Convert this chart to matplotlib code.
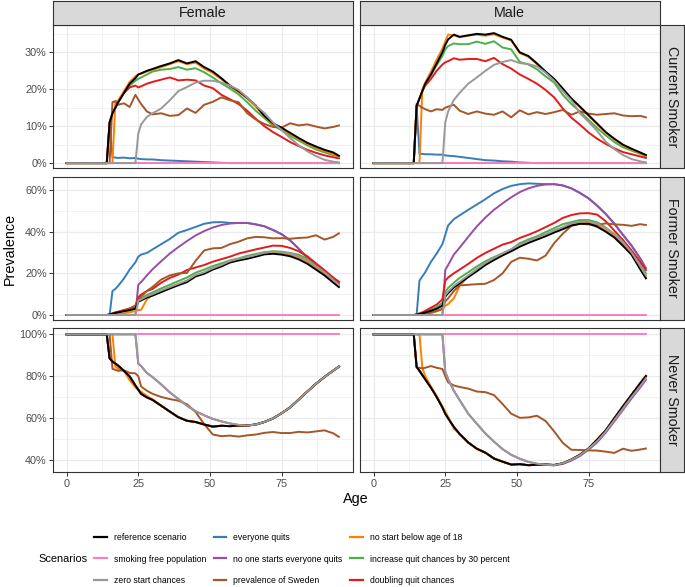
import matplotlib
matplotlib.use("Agg")
import matplotlib.pyplot as plt
from matplotlib.lines import Line2D

plt.rcParams['font.family'] = ['Liberation Sans', 'DejaVu Sans']

ages = [0, 14, 15, 16, 17, 18, 20, 22, 24, 25, 26, 28, 30, 33, 36, 39, 42, 45, 48, 51,
        54, 57, 60, 63, 66, 69, 72, 75, 78, 81, 84, 87, 90, 93, 95]

no_one = [0.0] * len(ages)        # 0 % lines
everyone = [100.0] * len(ages)    # 100 % lines

# ---- current smoker, female (%)
cur_f_ref = [0, 0, 11, 13.5, 15, 16.5, 19, 21.5, 23, 24, 24.3, 25, 25.5, 26.3, 27.0, 27.9, 27.0, 27.6, 26, 24.8,
             23, 21, 19.5, 17.7, 15.6, 12.8, 10.8, 9.6, 8.2, 6.8, 5.5, 4.5, 3.6, 2.9, 2.0]
cur_f_quits = [0, 0, 11, 1.6, 1.5, 1.4, 1.5, 1.3, 1.4, 1.2, 1.1, 1.0, 1.0, 0.8, 0.7, 0.6, 0.5, 0.4, 0.3, 0.2,
               0.1, 0, 0, 0, 0, 0, 0, 0, 0, 0, 0, 0, 0, 0, 0]
cur_f_zero = [0, 0, 0, 0, 0, 0, 0, 0, 0, 8, 10.5, 12.5, 13.5, 14.8, 17, 19.5, 20.6, 21.8, 22.3, 22.3,
              21.8, 21, 19.8, 17.8, 15.5, 13.6, 11, 9, 6.8, 4.8, 3.2, 1.9, 0.9, 0.4, 0.2]
cur_f_sweden = [0, 0, 0, 16.5, 16.8, 15.8, 16.2, 15.2, 18.5, 17.2, 16, 14, 13.2, 13.5, 12.8, 13, 14.8, 13.6, 15.8, 16.6,
                17.8, 17, 16.5, 13.5, 11.8, 10.6, 9.8, 9.6, 10.8, 10.2, 10.5, 9.9, 9.4, 9.8, 10.2]
cur_f_18 = [0, 0, 0, 0, 16.5, 17, 19.5, 22, 23.5, 24, 24.2, 24.8, 25.3, 26, 26.8, 27.6, 26.8, 27.2, 25.6, 24.4,
            22.7, 20.8, 19.3, 17.5, 15.3, 12.6, 10.6, 9.3, 7.9, 6.5, 5.2, 4.2, 3.3, 2.5, 1.8]
cur_f_30 = [0, 0, 11, 13.5, 15, 16.5, 19, 21, 22.3, 22.8, 23.2, 24, 24.8, 25.3, 25.5, 26, 25.3, 25.7, 24.6, 23.2,
            21.6, 20.2, 18.6, 16.5, 14.2, 12.2, 10.2, 8.9, 7.4, 6.1, 4.8, 3.7, 2.9, 2.2, 1.8]
cur_f_double = [0, 0, 11, 13.5, 15, 16.5, 19, 20.5, 21, 20.5, 20.8, 21.5, 22, 22.6, 23.2, 22.4, 22.6, 22.4, 21, 20.3,
                18.5, 17.3, 16, 14.2, 12, 10, 8.4, 7.1, 5.7, 4.6, 3.6, 2.8, 2.1, 1.6, 1.3]

# ---- current smoker, male (%)
cur_m_ref = [0, 0, 15.5, 17.5, 19.5, 21.5, 24, 27, 30, 32, 33.5, 34.8, 34.2, 34.6, 35, 34.8, 35.2, 34.2, 33.4, 30,
             29, 27, 24.8, 22.8, 20.2, 17.5, 15.3, 13, 10.7, 8.4, 6.6, 5.0, 3.9, 2.9, 2.2]
cur_m_quits = [0, 0, 15.5, 2.5, 2.5, 2.4, 2.4, 2.3, 2.3, 2.1, 2.0, 1.9, 1.7, 1.4, 1.1, 0.8, 0.7, 0.5, 0.4, 0.2,
               0.1, 0, 0, 0, 0, 0, 0, 0, 0, 0, 0, 0, 0, 0, 0]
cur_m_zero = [0, 0, 0, 0, 0, 0, 0, 0, 0, 11, 14, 17.1, 19, 21.5, 23.2, 25, 26.6, 27.4, 27.9, 27.1,
              26.8, 26.2, 24.5, 22.3, 19.5, 17, 13.5, 11.2, 8.7, 5.8, 3.8, 2.2, 1.1, 0.5, 0.2]
cur_m_sweden = [0, 0, 16, 15.5, 15, 14.6, 14, 14.6, 14.4, 15, 15.3, 15.8, 14.2, 13.3, 14, 13.4, 13.1, 14, 12.4, 14.3,
                13.2, 13.8, 13.3, 13.8, 14.4, 13.1, 14, 13.4, 13.1, 13.3, 13.5, 12.9, 12.7, 12.8, 12.4]
cur_m_18 = [0, 0, 0, 0, 20, 21.8, 24.8, 28, 31, 33, 34.8, 34.6, 34.1, 34.5, 34.8, 34.5, 34.9, 34, 33.2, 29.8,
            28.8, 26.8, 24.6, 22.6, 20, 17.3, 15.1, 12.8, 10.5, 8.2, 6.4, 4.8, 3.7, 2.7, 2.0]
cur_m_30 = [0, 0, 15.5, 17.5, 19.5, 21.5, 23.8, 26.5, 29, 30.8, 31.7, 32.4, 32.2, 32.2, 32.9, 32.3, 33, 31.3, 30.8, 27.4,
            26.7, 25.4, 23.5, 21.8, 18.5, 16, 14, 11.7, 9.5, 7.5, 5.7, 4.3, 3.4, 2.5, 1.8]
cur_m_double = [0, 0, 15.5, 17.5, 19.5, 21, 22.8, 25, 26.7, 27.3, 27.6, 28.4, 28, 28.2, 28.2, 27.6, 28.5, 26.8, 25.6, 24,
                22.8, 21.5, 19.8, 17.8, 14.8, 12.3, 10.4, 8.3, 6.6, 5.2, 4.0, 3.0, 2.4, 1.8, 1.4]

# ---- former smoker, female (%)
for_f_ref = [0, 0, 0.3, 0.6, 1.0, 1.3, 1.8, 2.3, 3, 6.4, 7, 8.4, 9.3, 11, 12.7, 14.3, 15.8, 18.5, 19.8, 21.8,
             23.3, 25.2, 26.2, 27, 28, 29.1, 29.4, 29, 28.2, 26.7, 24.6, 21.8, 19, 15.6, 13.4]
for_f_quits = [0, 0, 0, 11.5, 12.5, 14, 17.5, 21.8, 25.3, 28, 29, 29.8, 31.5, 34, 36.5, 39.5, 40.8, 42.3, 43.8, 44.5,
               44.6, 44.2, 44.2, 44.2, 43.5, 42.6, 40.8, 38.8, 35.8, 31.8, 27.5, 23.5, 20.5, 17.7, 16]
for_f_nostart = [0, 0, 0, 0, 0, 0, 0, 0, 0, 14.5, 15.8, 19, 22, 25.8, 29.5, 32.6, 35.5, 38.2, 40.3, 42,
                 43.2, 43.9, 44.2, 44.2, 43.5, 42.6, 40.8, 38.8, 35.8, 31.8, 27.5, 23.5, 20.5, 17.7, 16]
for_f_zero = [0, 0, 0, 0, 0, 0, 0, 0, 0, 6.8, 7.5, 9, 10, 11.8, 13.4, 15, 16.6, 19.2, 20.5, 22.5,
              24, 25.9, 27, 27.8, 28.8, 29.9, 30.4, 30.3, 29.5, 28.3, 26.3, 23.3, 20.5, 16.8, 14.5]
for_f_sweden = [0, 0, 0, 0.5, 0.8, 1.2, 2, 3, 4.5, 7.5, 8.8, 11.5, 13.5, 17, 19, 20, 20.2, 26, 31, 32,
                32.2, 34, 35.2, 36.8, 37.5, 37.3, 36.8, 36.9, 36.6, 37, 37.2, 38.3, 36.2, 37.5, 39.2]
for_f_18 = [0, 0, 0, 0, 0, 0.3, 0.8, 1.3, 1.9, 2.4, 2.5, 7.5, 9.8, 11.5, 13.2, 14.8, 16.3, 19, 20.2, 22.2,
            23.7, 25.6, 26.7, 27.5, 28.6, 29.6, 30, 29.8, 29, 27.7, 25.7, 22.8, 20, 16.4, 14.2]
for_f_30 = [0, 0, 0.3, 0.7, 1.1, 1.5, 2.1, 2.8, 3.6, 7.2, 8, 9.6, 10.8, 12.8, 14.5, 16.3, 18, 20.3, 21.8, 23.5,
            24.8, 26.2, 27.2, 28.4, 29.3, 30.2, 30.6, 30.4, 29.8, 28.9, 27, 24, 21, 17.4, 15.2]
for_f_double = [0, 0, 0.3, 0.8, 1.3, 1.6, 2.4, 3.2, 4.4, 8.5, 9.8, 11.5, 12.5, 15.5, 17.8, 19.4, 21.6, 22.8, 24, 25.6,
                26.8, 28, 29.5, 30.5, 31.5, 32.4, 33.3, 33.2, 32.2, 30.6, 28.2, 24.8, 21.5, 18, 15.8]

# ---- former smoker, male (%)
for_m_ref = [0, 0, 0.2, 0.5, 0.8, 1.2, 2, 3, 4.5, 8.8, 10.5, 13.2, 15.2, 18.2, 21, 24, 26.4, 28.6, 30.6, 32.8,
             34.6, 36.2, 37.8, 39.6, 41.2, 43, 43.8, 43.8, 42.4, 40.0, 37.2, 33.2, 29.0, 22, 17.6]
for_m_quits = [0, 0, 0, 16.5, 18.5, 20.5, 25.5, 29.5, 34, 38.5, 43, 46, 47.8, 50.5, 53, 55.6, 58.4, 60.5, 62, 62.8,
               63.2, 63, 62.8, 62.8, 62.2, 60.8, 58.6, 56, 52.5, 48.5, 43.8, 38.5, 33.3, 27.2, 22.4]
for_m_nostart = [0, 0, 0, 0, 0, 0, 0, 0, 0, 21.6, 24, 29, 32.3, 37.5, 42.5, 46.8, 50.5, 53.6, 56.5, 59,
                 60.8, 62, 62.7, 62.8, 62.2, 60.8, 58.6, 56, 52.5, 48.5, 43.8, 38.5, 33.3, 27.2, 22.4]
for_m_zero = [0, 0, 0, 0, 0, 0, 0, 0, 0, 9.5, 11.2, 14, 16, 19, 22, 25, 27.4, 29.6, 31.6, 33.8,
              35.6, 37.2, 38.8, 40.6, 42.2, 44, 44.8, 45, 43.8, 41.8, 39, 35, 30, 23.5, 19]
for_m_sweden = [0, 0, 0, 0.2, 0.4, 0.6, 1.2, 1.9, 3, 6.5, 8, 11.5, 14.2, 14.5, 14.8, 15, 16.8, 20, 25.5, 27.5,
                27, 26.2, 28.5, 34.5, 39, 42.8, 43.8, 43.5, 43.2, 44, 43.5, 43.3, 42.8, 43.6, 43.2]
for_m_18 = [0, 0, 0, 0, 0, 0.3, 0.9, 1.8, 2.8, 4.5, 5.2, 8, 14, 18.6, 21.4, 24.4, 26.8, 29, 31, 33.2,
            35, 36.6, 38.2, 40, 41.6, 43.4, 44.2, 44.3, 43, 40.6, 37.8, 33.6, 29, 22.5, 18.2]
for_m_30 = [0, 0, 0.2, 0.6, 1, 1.5, 2.6, 3.8, 5.8, 11, 13, 15.5, 17.8, 20.5, 23.3, 25.8, 27.8, 29.6, 31.5, 34.5,
            36.3, 37.8, 39.8, 41.7, 43.6, 44.6, 45.6, 45.6, 44.5, 42, 38.3, 34, 29, 23.8, 20]
for_m_double = [0, 0, 0.3, 0.8, 1.3, 2, 3.5, 5, 7.5, 16.5, 18, 20, 21.8, 24.5, 27.4, 29.8, 31.8, 33.8, 35, 37,
                38.5, 40.2, 42.2, 44.2, 46.6, 48, 48.8, 48.9, 48.2, 45, 40.5, 36, 31, 25.5, 21.6]

# ---- never smoker, female (%)
nev_f_ref = [100, 100, 88.5, 87, 86, 85, 82.5, 79.8, 75.5, 73.5, 71.5, 69.8, 68.6, 65.8, 63, 60.3, 58.6, 58, 56.8, 55.8,
             56.2, 56, 56.3, 56.3, 56.8, 58, 59.7, 62.2, 65, 68.8, 72.6, 76.3, 79.6, 82.6, 84.5]
nev_f_zero = [100, 100, 100, 100, 100, 100, 100, 100, 100, 86, 84.8, 81.5, 79.5, 76, 72.2, 69, 65.8, 63.2, 61.2, 59.5,
              58.3, 57.3, 56.6, 56.3, 56.8, 58, 59.7, 62.2, 65, 68.8, 72.6, 76.3, 79.6, 82.6, 84.5]
nev_f_sweden = [100, 100, 100, 83.5, 83, 82.5, 82.8, 81.5, 81.3, 80, 75, 73, 71.5, 70, 69, 68.2, 66.5, 62.8, 57, 52,
                51.2, 51.5, 51, 51.6, 52, 52.8, 53.2, 52.7, 52.7, 53.3, 53, 53.5, 54, 52.6, 50.9]
nev_f_18 = [100, 100, 100, 100, 84.5, 83.5, 82.5, 78, 74.5, 73.3, 72.5, 70.5, 68.8, 65.8, 63, 60.3, 58.6, 58, 56.8, 55.8,
            56.2, 56, 56.3, 56.3, 56.8, 58, 59.7, 62.2, 65, 68.8, 72.6, 76.3, 79.6, 82.6, 84.5]

# ---- never smoker, male (%)
nev_m_ref = [100, 100, 84.5, 82.5, 80.5, 78.5, 74.5, 70, 65, 62, 59.8, 55.6, 52.3, 48.2, 45.2, 43.3, 40.5, 39, 37.6, 37.8,
             37.3, 37.5, 37.6, 37.4, 38.2, 40, 42.3, 45.3, 49.5, 54, 59.8, 65.5, 71, 76.5, 80]
nev_m_zero = [100, 100, 100, 100, 100, 100, 100, 100, 100, 82, 78.5, 73, 68.5, 62, 57.2, 52.5, 48.6, 45, 42.3, 40.4,
              38.9, 38, 37.5, 37.3, 38.2, 39.9, 42.1, 45.2, 48.8, 53.5, 59, 64.5, 70, 75.2, 79]
nev_m_nostart = [100, 100, 100, 100, 100, 100, 100, 100, 100, 82, 78.5, 73, 68.5, 62, 57.2, 52.5, 48.6, 45, 42.3, 40.4,
                 38.9, 38, 37.5, 37.2, 37.9, 39.5, 41.7, 44.7, 48.2, 52.9, 58.3, 63.8, 69.3, 74.5, 78.2]
nev_m_sweden = [100, 100, 84, 84, 83.7, 84, 84.8, 84, 83.4, 80, 77, 75.5, 74.8, 74, 72.6, 72.3, 70.9, 66.6, 62, 60,
                60.2, 61, 58.5, 53.5, 48, 44.7, 44.6, 44.4, 44.3, 43.8, 43.2, 45.2, 44.2, 44.8, 45.3]
nev_m_18 = [100, 100, 100, 100, 84, 80, 75, 70.5, 65.5, 63, 60.5, 54.8, 52.3, 48.2, 45.2, 43.3, 40.5, 39, 37.6, 37.8,
            37.3, 37.5, 37.6, 37.4, 38.2, 40, 42.3, 45.3, 49.5, 54, 59.8, 65.5, 71, 76.5, 80]

scenarios = ['reference scenario', 'smoking free population', 'zero start chances',
             'everyone quits', 'no one starts everyone quits', 'prevalence of Sweden',
             'no start below age of 18', 'increase quit chances by 30 percent', 'doubling quit chances']
colors = ['#000000', '#F781BF', '#999999', '#377EB8', '#984EA3', '#A65628',
          '#FF7F00', '#4DAF4A', '#E41A1C']
sexes = ['Female', 'Male']
states = ['Current Smoker', 'Former Smoker', 'Never Smoker']

# series per panel, in scenario order
panels = {
    ('Current Smoker', 'Female'): [cur_f_ref, no_one, cur_f_zero, cur_f_quits, no_one, cur_f_sweden,
                                   cur_f_18, cur_f_30, cur_f_double],
    ('Current Smoker', 'Male'): [cur_m_ref, no_one, cur_m_zero, cur_m_quits, no_one, cur_m_sweden,
                                 cur_m_18, cur_m_30, cur_m_double],
    ('Former Smoker', 'Female'): [for_f_ref, no_one, for_f_zero, for_f_quits, for_f_nostart, for_f_sweden,
                                  for_f_18, for_f_30, for_f_double],
    ('Former Smoker', 'Male'): [for_m_ref, no_one, for_m_zero, for_m_quits, for_m_nostart, for_m_sweden,
                                for_m_18, for_m_30, for_m_double],
    ('Never Smoker', 'Female'): [nev_f_ref, everyone, nev_f_zero, nev_f_ref, nev_f_zero, nev_f_sweden,
                                 nev_f_18, nev_f_ref, nev_f_ref],
    ('Never Smoker', 'Male'): [nev_m_ref, everyone, nev_m_zero, nev_m_ref, nev_m_nostart, nev_m_sweden,
                               nev_m_18, nev_m_ref, nev_m_ref],
}
draw_order = [3, 4, 7, 8, 6, 5, 1, 0, 2]

W, H = 685, 587
fig = plt.figure(figsize=(W / 100, H / 100), dpi=100)


def rect(x0, y0, x1, y1):
    return [x0 / W, 1 - y1 / H, (x1 - x0) / W, (y1 - y0) / H]


col_x = [(53, 352.5), (360, 659.5)]
row_y = [(25, 168.3), (176.7, 320), (328.3, 472.3)]
ylims = [(-1.4, 37.4), (-2.4, 66.4), (33.9, 102.9)]
yticks = [[0, 10, 20, 30], [0, 20, 40, 60], [40, 60, 80, 100]]
yminor = [[5, 15, 25, 35], [10, 30, 50], [50, 70, 90]]
edge = '#333333'

for i, state in enumerate(states):
    for j, sex in enumerate(sexes):
        ax = fig.add_axes(rect(col_x[j][0], row_y[i][0], col_x[j][1], row_y[i][1]))
        series = panels[(state, sex)]
        for k in draw_order:
            ax.plot(ages, series[k], color=colors[k], lw=1.4)
        ax.set_xlim(-4.75, 99.75)
        ax.set_ylim(*ylims[i])
        ax.set_xticks([0, 25, 50, 75])
        ax.set_xticks([12.5, 37.5, 62.5, 87.5], minor=True)
        ax.set_yticks(yticks[i])
        ax.set_yticks(yminor[i], minor=True)
        ax.set_yticklabels([f'{v}%' for v in yticks[i]])
        ax.grid(which='major', color='#EBEBEB', lw=0.9)
        ax.grid(which='minor', color='#EBEBEB', lw=0.45)
        ax.set_axisbelow(True)
        ax.tick_params(which='minor', length=0)
        ax.tick_params(which='major', length=2.7, width=0.7, color=edge, labelsize=7.8,
                       labelcolor='#4D4D4D', pad=1.8)
        if j == 1:
            ax.tick_params(axis='y', length=0, labelleft=False)
        if i < 2:
            ax.tick_params(axis='x', length=0, labelbottom=False)
        for s in ax.spines.values():
            s.set_color(edge)
            s.set_linewidth(0.8)

        if i == 0:
            st = fig.add_axes(rect(col_x[j][0], 1, col_x[j][1], 25))
            st.set_facecolor('#D9D9D9')
            st.set_xticks([])
            st.set_yticks([])
            for s in st.spines.values():
                s.set_color(edge)
                s.set_linewidth(0.8)
            st.text(0.5, 0.5, sex, ha='center', va='center', transform=st.transAxes,
                    fontsize=10.3, color='#1A1A1A')
    st = fig.add_axes(rect(659.5, row_y[i][0], 683.5, row_y[i][1]))
    st.set_facecolor('#D9D9D9')
    st.set_xticks([])
    st.set_yticks([])
    for s in st.spines.values():
        s.set_color(edge)
        s.set_linewidth(0.8)
    st.text(0.5, 0.5, state, ha='center', va='center', rotation=-90, transform=st.transAxes,
            fontsize=10.3, color='#1A1A1A')

fig.text(10 / W, 1 - 248.6 / H, 'Prevalence', rotation=90, ha='center', va='center', fontsize=10.4)
fig.text(355.5 / W, 1 - 499 / H, 'Age', ha='center', va='center', fontsize=10.4)
fig.text(38 / W, 1 - 559 / H, 'Scenarios', ha='left', va='center', fontsize=7.9)

handles = [Line2D([], [], color=c, lw=1.6) for c in colors]
fig.legend(handles, scenarios, ncol=3, loc='center left', bbox_to_anchor=(94 / W, 1 - 559 / H),
           frameon=False, fontsize=6.2, handlelength=1.5, handletextpad=0.8, columnspacing=0.85,
           labelspacing=1.4, borderpad=0, borderaxespad=0)

fig.savefig('out.png', dpi=100)
